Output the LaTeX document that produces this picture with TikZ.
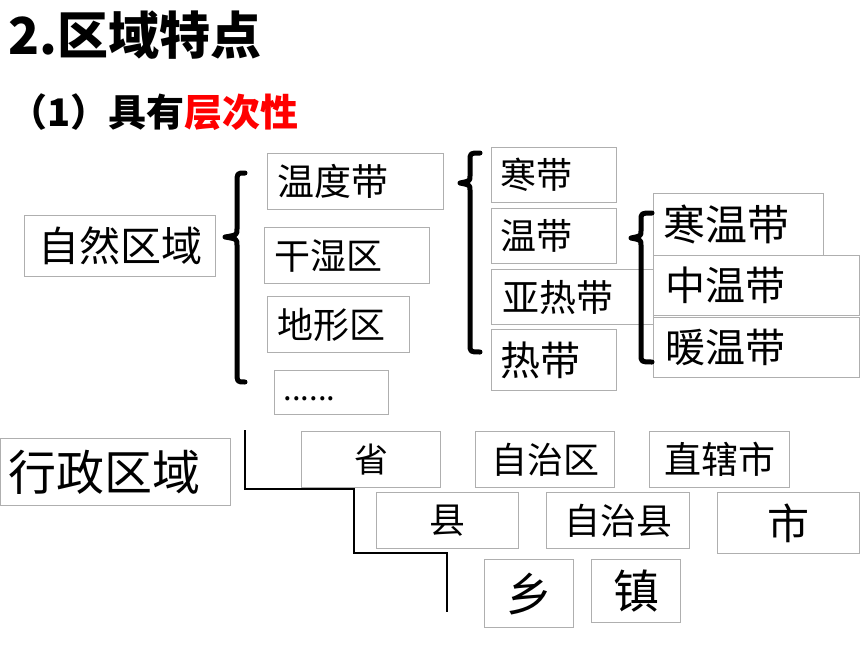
\documentclass[tikz,border=0pt]{standalone}
\usepackage{fontspec}
\setmainfont{Noto Sans CJK SC}
\usepackage{xcolor}
\definecolor{boxgray}{RGB}{175,175,175}

\begin{document}
\begin{tikzpicture}[x=1pt,y=-1pt,
    cell/.style={draw=boxgray, fill=white, line width=1.2pt, inner sep=0pt, anchor=north west},
    lcell/.style={cell, align=left, inner xsep=#1},
    brace/.style={line width=5pt, line cap=round, line join=round}]
    \useasboundingbox (0,0) rectangle (860,645);

    % titles
    \node[anchor=west, inner sep=0pt] (title) at (8,35) {\fontsize{51}{54}\selectfont\bfseries 2.区域特点};
    \node[anchor=west, inner sep=0pt] (sub) at (9,112) {\fontsize{38}{41}\selectfont\bfseries （1）具有\textcolor{red}{层次性}};

    % natural regions
    \node[cell, minimum width=191, minimum height=61] (nat) at (24,215) {\fontsize{41}{44}\selectfont 自然区域};
    \node[lcell=10, text width=156, minimum height=56] (tz) at (267,153) {\fontsize{37}{40}\selectfont 温度带};
    \node[lcell=10, text width=145, minimum height=56] (gs) at (264,227) {\fontsize{36}{40}\selectfont 干湿区};
    \node[lcell=10, text width=122, minimum height=56] (dx) at (267,296) {\fontsize{36}{40}\selectfont 地形区};
    \node[lcell=9, text width=96, minimum height=44] (etc) at (274,370) {\fontsize{31}{34}\selectfont\raisebox{-8pt}[0pt][0pt]{......}};

    \node[lcell=9, text width=107, minimum height=55] (hd) at (491,147) {\fontsize{36}{40}\selectfont 寒带};
    \node[lcell=9, text width=107, minimum height=55] (wd) at (491,208) {\fontsize{36}{40}\selectfont 温带};
    \node[lcell=11, text width=140, minimum height=55] (yrd) at (491,269) {\fontsize{37}{40}\selectfont 亚热带};
    \node[lcell=9, text width=107, minimum height=61] (rd) at (491,329) {\fontsize{40}{44}\selectfont 热带};

    \node[lcell=10, text width=150, minimum height=62] (hwd) at (653,193) {\fontsize{42}{46}\selectfont 寒温带};
    \node[lcell=12, text width=182, minimum height=60] (zwd) at (653,255) {\fontsize{40}{44}\selectfont 中温带};
    \node[lcell=12, text width=182, minimum height=60] (nwd) at (653,317) {\fontsize{40}{44}\selectfont 暖温带};

    \draw[brace] (245,173) .. controls (237,173) .. (237,183) -- (237,229)
        .. controls (237,235) .. (225,237) .. controls (237,239) .. (237,245)
        -- (237,372) .. controls (237,382) .. (245,382);
    \draw[brace] (480,153) .. controls (470,153) .. (470,161) -- (470,176)
        .. controls (470,181) .. (460,183) .. controls (470,185) .. (470,190)
        -- (470,344) .. controls (470,352) .. (480,352);
    \draw[brace] (652,213) .. controls (641,213) .. (641,221) -- (641,231)
        .. controls (641,236) .. (631,238) .. controls (641,240) .. (641,245)
        -- (641,354) .. controls (641,362) .. (652,362);

    % administrative regions
    \node[lcell=8, text width=214, minimum height=67] (adm) at (0,438) {\fontsize{48}{52}\selectfont 行政区域};

    \node[cell, minimum width=139, minimum height=56] (sheng) at (301,431) {\fontsize{34}{38}\selectfont 省};
    \node[cell, minimum width=139, minimum height=56] (zzq) at (475,431) {\fontsize{36}{40}\selectfont 自治区};
    \node[cell, minimum width=140, minimum height=56] (zxs) at (649,431) {\fontsize{37}{40}\selectfont 直辖市};
    \node[cell, minimum width=142, minimum height=56] (xian) at (376,492) {\fontsize{36}{40}\selectfont 县};
    \node[cell, minimum width=143, minimum height=56] (zzx) at (546,492) {\fontsize{36}{40}\selectfont 自治县};
    \node[cell, minimum width=142, minimum height=61] (shi) at (717,492) {\fontsize{42}{46}\selectfont 市};
    \node[cell, minimum width=89, minimum height=68] (xiang) at (484,559) {\fontsize{46}{50}\selectfont 乡};
    \node[cell, minimum width=89, minimum height=63] (zhen) at (591,559) {\fontsize{46}{50}\selectfont 镇};

    \coordinate (st0) at (245,430);
    \coordinate (st1) at (354,489);
    \coordinate (st2) at (447,553);
    \coordinate (st3) at (447,612);
    \draw[line width=2pt] (st0) |- (st1) |- (st2) -- (st3);
\end{tikzpicture}
\end{document}
